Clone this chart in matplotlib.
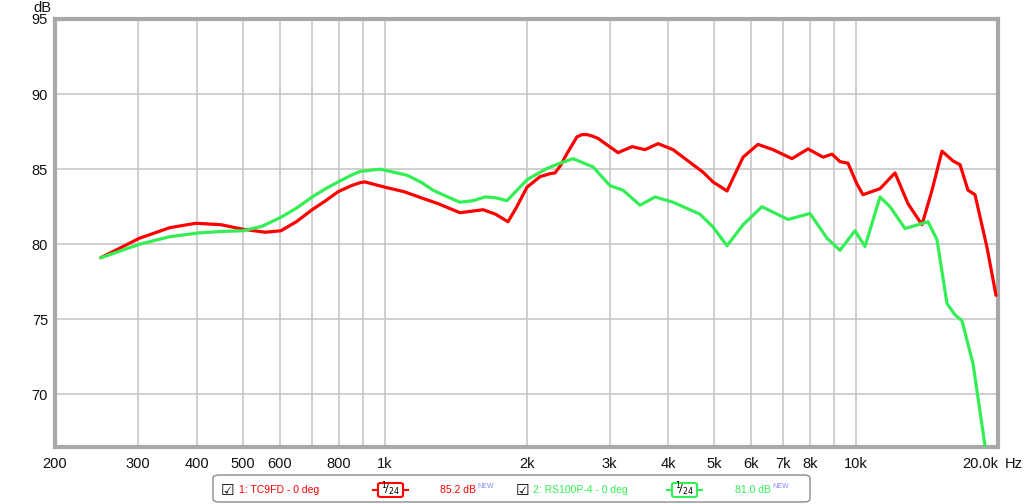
import matplotlib
matplotlib.use("Agg")
import matplotlib.pyplot as plt
from matplotlib.patches import FancyBboxPatch
from matplotlib.lines import Line2D

plt.rcParams["font.family"] = ["Liberation Sans", "DejaVu Sans"]

# Frequency responses (Hz, dB)
red_freq = [250, 302, 350, 398, 450, 501, 558, 603, 650, 702, 750, 797, 850,
            887, 909, 1002, 1100, 1207, 1300, 1445, 1530, 1618, 1720, 1827,
            1900, 2005, 2136, 2243, 2299, 2356, 2438, 2559, 2620, 2688, 2760,
            2836, 3127, 3349, 3568, 3802, 4091, 4510, 4736, 4973, 5325, 5759,
            6193, 6664, 7312, 7908, 8510, 8893, 9246, 9614, 10046, 10344,
            11240, 12094, 12888, 13799, 14490, 15214, 16056, 16614, 17276,
            17876, 18951, 19805]
red_db = [79.1, 80.4, 81.1, 81.4, 81.3, 81.0, 80.8, 80.9, 81.5, 82.3, 82.9,
          83.5, 83.9, 84.1, 84.15, 83.8, 83.5, 83.05, 82.7, 82.1, 82.2, 82.3,
          82.0, 81.5, 82.4, 83.8, 84.5, 84.7, 84.75, 85.2, 86.05, 87.15, 87.3,
          87.3, 87.2, 87.05, 86.1, 86.5, 86.3, 86.7, 86.3, 85.3, 84.8, 84.15,
          83.55, 85.8, 86.65, 86.3, 85.7, 86.35, 85.8, 86.0, 85.5, 85.4, 84.0,
          83.3, 83.7, 84.75, 82.7, 81.3, 83.6, 86.2, 85.55, 85.3, 83.6, 83.3,
          79.8, 76.6]

green_freq = [250, 302, 350, 402, 450, 501, 550, 603, 650, 702, 750, 797, 850,
              887, 978, 1116, 1200, 1267, 1350, 1445, 1540, 1633, 1720, 1818,
              2005, 2210, 2356, 2510, 2768, 3007, 3204, 3482, 3746, 4091, 4668,
              4973, 5325, 5759, 6315, 7170, 7985, 8678, 9246, 9948, 10446,
              11240, 11803, 12700, 13531, 14209, 14848, 15591, 16214, 16776,
              17703, 18768]
green_db = [79.1, 80.0, 80.5, 80.75, 80.85, 80.9, 81.2, 81.8, 82.4, 83.15,
            83.7, 84.15, 84.6, 84.85, 85.0, 84.6, 84.1, 83.6, 83.2, 82.8, 82.9,
            83.15, 83.1, 82.9, 84.3, 85.05, 85.4, 85.7, 85.15, 83.9, 83.6, 82.6,
            83.15, 82.8, 82.0, 81.15, 79.9, 81.3, 82.5, 81.65, 82.05, 80.4,
            79.6, 80.9, 79.85, 83.15, 82.5, 81.05, 81.3, 81.5, 80.3, 76.05,
            75.3, 74.9, 72.05, 66.6]

grid_freqs = [200, 300, 400, 500, 600, 700, 800, 900, 1000, 2000, 3000, 4000,
              5000, 6000, 7000, 8000, 9000, 10000, 20000]
x_tick_freqs = [200, 300, 400, 500, 600, 800, 1000, 2000, 3000, 4000, 5000,
                6000, 7000, 8000, 10000, 20000]
x_tick_labels = ["200", "300", "400", "500", "600", "800", "1k", "2k", "3k",
                 "4k", "5k", "6k", "7k", "8k", "10k", "20.0k"]
y_ticks = [70, 75, 80, 85, 90, 95]

RED = "#ff0000"
GREEN = "#33ee55"
GRID = "#c8c8c8"

fig = plt.figure(figsize=(10.24, 5.04), dpi=100)
ax = fig.add_axes([55 / 1024, 57 / 504, 943 / 1024, 428 / 504])

ax.set_xscale("log")
ax.set_xlim(200, 20000)
ax.set_ylim(66.5, 95)

for f in grid_freqs:
    ax.axvline(f, color=GRID, lw=1.2, zorder=1)
for v in y_ticks[:-1]:
    ax.axhline(v, color=GRID, lw=1.2, zorder=1)

ax.plot(red_freq, red_db, color=RED, lw=2.3, solid_joinstyle="round",
        solid_capstyle="round", zorder=3)
ax.plot(green_freq, green_db, color=GREEN, lw=2.3, solid_joinstyle="round",
        solid_capstyle="round", zorder=3)

ax.set_xticks(x_tick_freqs)
ax.set_xticklabels(x_tick_labels)
ax.xaxis.set_minor_locator(matplotlib.ticker.NullLocator())
ax.set_yticks(y_ticks)
ax.set_yticklabels([str(v) for v in y_ticks])
ax.tick_params(axis="both", length=0, labelsize=10.5, colors="#111111")
ax.tick_params(axis="x", pad=7.5)
ax.tick_params(axis="y", pad=5)
# "20.0k" ends at the right edge, unit follows it
ax.get_xticklabels()[-1].set_horizontalalignment("right")
ax.annotate("Hz", xy=(1, 0), xycoords="axes fraction", xytext=(5, -7.5),
            textcoords="offset points", ha="left", va="top", fontsize=10.5,
            color="#111111")
fig.text(42 / 1024, 1 - 8 / 504, "dB", ha="center", va="center",
         fontsize=10.5, color="#111111")

for s in ax.spines.values():
    s.set_color("#a8a8a8")
    s.set_linewidth(3)

# legend strip at the bottom
fig.patches.append(FancyBboxPatch((213 / 1024, 1 - 502 / 504), 597 / 1024, 27 / 504,
                                  boxstyle="round,pad=0,rounding_size=0.006",
                                  transform=fig.transFigure, facecolor="white",
                                  edgecolor="#8c8c8c", lw=1, zorder=1))
yc = 1 - 490 / 504
items = [
    (227, 239, "1: TC9FD - 0 deg", RED, 373, "85.2 dB", 440, 477),
    (522, 533, "2: RS100P-4 - 0 deg", GREEN, 667, "81.0 dB", 735, 772),
]
for cb_x, name_x, name, col, line_x, level, lvl_x, new_x in items:
    fig.text(cb_x / 1024, yc, "\u2611", ha="center", va="center", fontsize=11,
             family="DejaVu Sans", color="black", zorder=5)
    fig.text(name_x / 1024, yc, name, ha="left", va="center",
             fontsize=7.5, color=col, zorder=5)
    fig.lines.append(Line2D([line_x / 1024, (line_x + 35) / 1024], [yc, yc],
                            transform=fig.transFigure, color=col, lw=1.5,
                            zorder=2))
    fig.patches.append(FancyBboxPatch(((line_x + 5) / 1024, 1 - 497 / 504),
                                      25 / 1024, 14 / 504,
                                      boxstyle="round,pad=0,rounding_size=0.003",
                                      transform=fig.transFigure,
                                      facecolor="white", edgecolor=col, lw=1.5,
                                      zorder=3))
    fig.text((line_x + 17.5) / 1024, yc + 0.002, r"${}^{1}\!/_{24}$",
             ha="center", va="center", fontsize=8, color="black", zorder=5)
    fig.text(lvl_x / 1024, yc, level, ha="left", va="center", fontsize=7.5,
             color=col, zorder=5)
    fig.text(new_x / 1024, yc + 0.006, "NEW", ha="left", va="center",
             fontsize=5, color="#8888ff", zorder=5)

fig.savefig("out.png", dpi=100, facecolor="white")
